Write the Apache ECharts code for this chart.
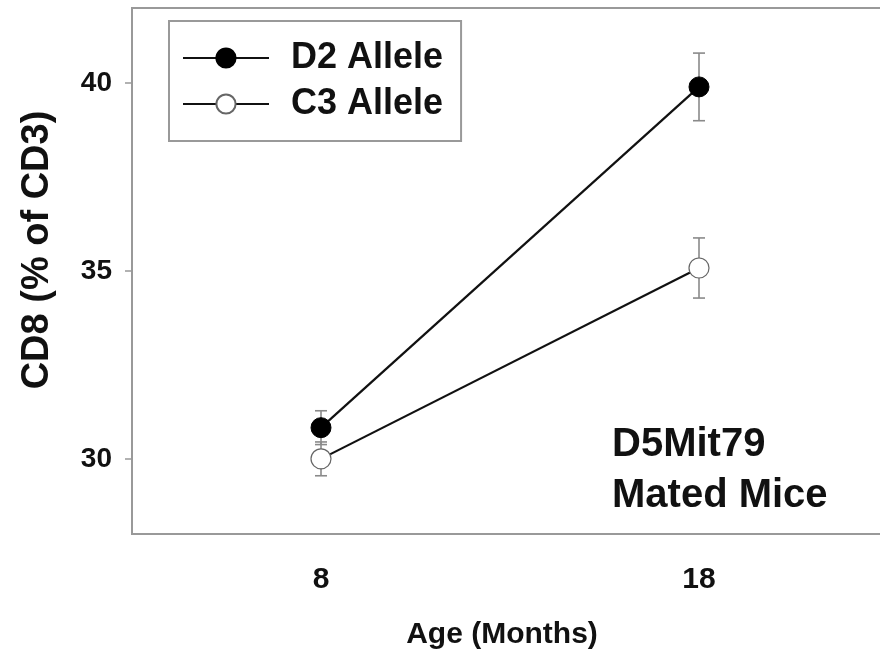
<!DOCTYPE html>
<html>
<head>
<meta charset="utf-8">
<script src="https://cdn.jsdelivr.net/npm/echarts@6/dist/echarts.min.js"></script>
<style>html,body{margin:0;padding:0;background:#fff}#c{width:880px;height:652px}</style>
</head>
<body>
<div id="c"></div>
<script>
const ages = ['8', '18'];
const d2Mean = [30.83, 39.9];
const d2Err = [0.45, 0.9];
const c3Mean = [30.0, 35.08];
const c3Err = [0.45, 0.8];
const yTicks = [30, 35, 40];
const seriesNames = ['D2 Allele', 'C3 Allele'];
const annotation = ['D5Mit79', 'Mated Mice'];

const FONT = '"Liberation Sans", Arial, sans-serif';
const chart = echarts.init(document.getElementById('c'), null, {renderer: 'canvas'});

function errData(means, errs) {
  return means.map((m, i) => [i, m, errs[i]]);
}
function errRender(params, api) {
  const i = api.value(0), m = api.value(1), e = api.value(2);
  const top = api.coord([i, m + e]);
  const bot = api.coord([i, m - e]);
  const hw = 6;
  const st = {stroke: '#8a8a8a', lineWidth: 1.6};
  return {type: 'group', children: [
    {type: 'line', shape: {x1: top[0], y1: top[1], x2: bot[0], y2: bot[1]}, style: st},
    {type: 'line', shape: {x1: top[0] - hw, y1: top[1], x2: top[0] + hw, y2: top[1]}, style: st},
    {type: 'line', shape: {x1: bot[0] - hw, y1: bot[1], x2: bot[0] + hw, y2: bot[1]}, style: st}
  ]};
}

chart.setOption({
  animation: false,
  backgroundColor: '#fff',
  grid: {left: 132, top: 8, right: -8, bottom: 118, outerBoundsMode: 'none', containLabel: false,
         show: true, borderColor: '#999', borderWidth: 2},
  legend: {
    data: seriesNames,
    orient: 'vertical',
    left: 169, top: 21,
    padding: [19, 18, 19, 13],
    itemGap: 10,
    itemWidth: 86, itemHeight: 24,
    borderColor: '#999', borderWidth: 2,
    textStyle: {fontFamily: FONT, fontWeight: 'bold', fontSize: 36, color: '#111', padding: [0, 0, 0, 17]}
  },
  xAxis: {
    type: 'category', data: ages, boundaryGap: true,
    name: 'Age (Months)', nameLocation: 'middle', nameGap: 86,
    nameTextStyle: {fontFamily: FONT, fontWeight: 'bold', fontSize: 30, color: '#111', padding: [0, 16, 0, 0]},
    axisLine: {lineStyle: {color: '#999', width: 2}},
    axisTick: {alignWithLabel: true, length: 7, lineStyle: {color: '#999', width: 1.5}},
    axisLabel: {fontFamily: FONT, fontWeight: 'bold', fontSize: 30, color: '#111', margin: 31}
  },
  yAxis: {
    type: 'value', min: 28, max: 42,
    splitLine: {show: false},
    axisLine: {show: true, lineStyle: {color: '#999', width: 2}},
    axisTick: {show: true, length: 7, customValues: yTicks, lineStyle: {color: '#999', width: 1.5}},
    axisLabel: {fontFamily: FONT, fontWeight: 'bold', fontSize: 28, color: '#111', margin: 20, customValues: yTicks}
  },
  graphic: [
    {type: 'text', x: 38, y: 250, rotation: Math.PI / 2,
     style: {text: 'CD8 (% of CD3)', fontFamily: FONT, fontWeight: 'bold', fontSize: 38, fill: '#111', align: 'center', verticalAlign: 'middle'}},
    {type: 'text', left: 612, top: 419,
     style: {text: annotation.join('\n'), fontFamily: FONT, fontWeight: 'bold', fontSize: 40, lineHeight: 51, fill: '#111'}}
  ],
  series: [
    {type: 'custom', name: 'D2 err', data: errData(d2Mean, d2Err), renderItem: errRender, z: 1, encode: {x: 0, y: 1}},
    {type: 'custom', name: 'C3 err', data: errData(c3Mean, c3Err), renderItem: errRender, z: 1, encode: {x: 0, y: 1}},
    {type: 'line', name: seriesNames[0], data: d2Mean, symbol: 'circle', symbolSize: 20, z: 3,
     lineStyle: {color: '#111', width: 2.2}, itemStyle: {color: '#000', borderColor: '#000', borderWidth: 1}},
    {type: 'line', name: seriesNames[1], data: c3Mean, symbol: 'circle', symbolSize: 20, z: 3,
     lineStyle: {color: '#111', width: 2.2}, itemStyle: {color: '#fff', borderColor: '#666', borderWidth: 1.2}}
  ]
});
</script>
</body>
</html>
